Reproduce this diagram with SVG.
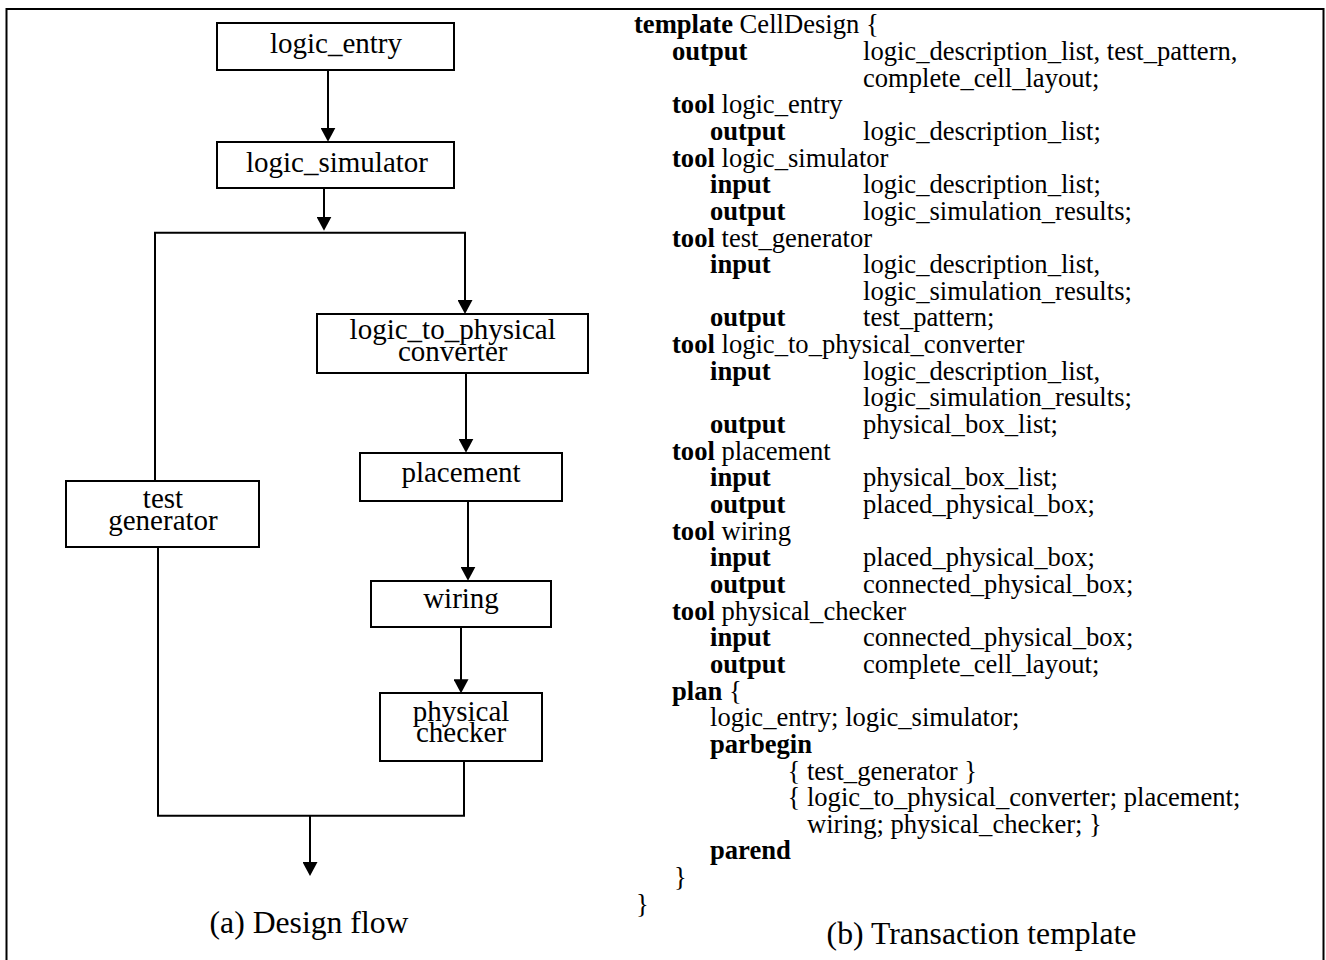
<svg xmlns="http://www.w3.org/2000/svg" width="1326" height="960" viewBox="0 0 1326 960">
<style>
  text { font-family: "Liberation Serif", "Times New Roman", serif; fill: #000; }
  .lbl { font-size: 29px; text-anchor: middle; }
  .cap { font-size: 31.7px; text-anchor: middle; }
  .code { font-size: 26.6px; }
  .kw { font-weight: bold; }
  .box { fill: #fff; stroke: #000; stroke-width: 2; }
  .wire { fill: none; stroke: #000; stroke-width: 2; }
  .frame { fill: none; stroke: #000; stroke-width: 2; }
</style>
<defs>
  <marker id="arr" markerUnits="userSpaceOnUse" viewBox="0 0 14 15" markerWidth="14" markerHeight="15" refX="11" refY="7.5" orient="auto">
    <path d="M0,0 L14,7.5 L0,15 Z" fill="#000"/>
  </marker>
</defs>
<rect class="frame" x="6.5" y="9" width="1317" height="970"/>

<g id="connectors">
  <path class="wire" d="M328,70 V138.7" marker-end="url(#arr)"/>
  <path class="wire" d="M324,188 V227.7" marker-end="url(#arr)"/>
  <path class="wire" d="M155,481 V232.7 H465 V311" marker-end="url(#arr)"/>
  <path class="wire" d="M466,373 V449.7" marker-end="url(#arr)"/>
  <path class="wire" d="M468,501 V577.7" marker-end="url(#arr)"/>
  <path class="wire" d="M461,627 V690.3" marker-end="url(#arr)"/>
  <path class="wire" d="M464,761 V815.7 H158 V547"/>
  <path class="wire" d="M310,815.7 V873" marker-end="url(#arr)"/>
</g>

<g id="logic_entry">
  <rect class="box" x="217" y="23" width="237" height="47"/>
  <text class="lbl" x="336" y="52.7">logic_entry</text>
</g>
<g id="logic_simulator">
  <rect class="box" x="217" y="142" width="237" height="46"/>
  <text class="lbl" x="337" y="171.5">logic_simulator</text>
</g>
<g id="logic_to_physical_converter">
  <rect class="box" x="317" y="314" width="271" height="59"/>
  <text class="lbl" x="452.7" y="339.3">logic_to_physical</text>
  <text class="lbl" x="452.7" y="361">converter</text>
</g>
<g id="test_generator">
  <rect class="box" x="66" y="481" width="193" height="66"/>
  <text class="lbl" x="163" y="508.3">test</text>
  <text class="lbl" x="163" y="530">generator</text>
</g>
<g id="placement">
  <rect class="box" x="360" y="453" width="202" height="48"/>
  <text class="lbl" x="461" y="481.5">placement</text>
</g>
<g id="wiring">
  <rect class="box" x="371" y="581" width="180" height="46"/>
  <text class="lbl" x="461" y="608.3">wiring</text>
</g>
<g id="physical_checker">
  <rect class="box" x="380" y="693" width="162" height="68"/>
  <text class="lbl" x="461" y="721">physical</text>
  <text class="lbl" x="461" y="741.7">checker</text>
</g>

<text class="cap" x="309" y="933">(a) Design flow</text>

<g id="template" class="code">
  <text x="634" y="33.3"><tspan class="kw">template</tspan> CellDesign {</text>
  <text x="672" y="59.95" class="kw">output</text>
  <text x="863" y="59.95">logic_description_list, test_pattern,</text>
  <text x="863" y="86.6">complete_cell_layout;</text>
  <text x="672" y="113.25"><tspan class="kw">tool</tspan> logic_entry</text>
  <text x="710" y="139.9" class="kw">output</text>
  <text x="863" y="139.9">logic_description_list;</text>
  <text x="672" y="166.55"><tspan class="kw">tool</tspan> logic_simulator</text>
  <text x="710" y="193.2" class="kw">input</text>
  <text x="863" y="193.2">logic_description_list;</text>
  <text x="710" y="219.85" class="kw">output</text>
  <text x="863" y="219.85">logic_simulation_results;</text>
  <text x="672" y="246.5"><tspan class="kw">tool</tspan> test_generator</text>
  <text x="710" y="273.15" class="kw">input</text>
  <text x="863" y="273.15">logic_description_list,</text>
  <text x="863" y="299.8">logic_simulation_results;</text>
  <text x="710" y="326.45" class="kw">output</text>
  <text x="863" y="326.45">test_pattern;</text>
  <text x="672" y="353.1"><tspan class="kw">tool</tspan> logic_to_physical_converter</text>
  <text x="710" y="379.75" class="kw">input</text>
  <text x="863" y="379.75">logic_description_list,</text>
  <text x="863" y="406.4">logic_simulation_results;</text>
  <text x="710" y="433.05" class="kw">output</text>
  <text x="863" y="433.05">physical_box_list;</text>
  <text x="672" y="459.7"><tspan class="kw">tool</tspan> placement</text>
  <text x="710" y="486.35" class="kw">input</text>
  <text x="863" y="486.35">physical_box_list;</text>
  <text x="710" y="513" class="kw">output</text>
  <text x="863" y="513">placed_physical_box;</text>
  <text x="672" y="539.65"><tspan class="kw">tool</tspan> wiring</text>
  <text x="710" y="566.3" class="kw">input</text>
  <text x="863" y="566.3">placed_physical_box;</text>
  <text x="710" y="592.95" class="kw">output</text>
  <text x="863" y="592.95">connected_physical_box;</text>
  <text x="672" y="619.6"><tspan class="kw">tool</tspan> physical_checker</text>
  <text x="710" y="646.25" class="kw">input</text>
  <text x="863" y="646.25">connected_physical_box;</text>
  <text x="710" y="672.9" class="kw">output</text>
  <text x="863" y="672.9">complete_cell_layout;</text>
  <text x="672" y="699.55"><tspan class="kw">plan</tspan> {</text>
  <text x="710" y="726.2">logic_entry; logic_simulator;</text>
  <text x="710" y="752.85" class="kw">parbegin</text>
  <text x="787.5" y="779.5">{ test_generator }</text>
  <text x="787.5" y="806.15">{ logic_to_physical_converter; placement;</text>
  <text x="807" y="832.8">wiring; physical_checker; }</text>
  <text x="710" y="859.45" class="kw">parend</text>
  <text x="674" y="886.1">}</text>
  <text x="636" y="912.75">}</text>
</g>

<text class="cap" x="981.5" y="944">(b) Transaction template</text>
</svg>
